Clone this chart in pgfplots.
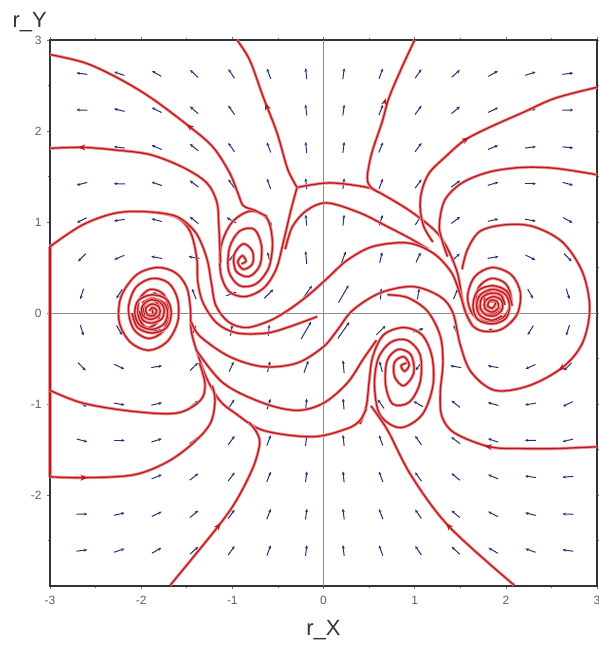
\documentclass[border=0pt]{standalone}
\usepackage{fontspec}
\setmainfont{Liberation Sans}
\usepackage{pgfplots}
\usepackage{pgfplotstable}
\pgfplotsset{compat=1.18}
\usetikzlibrary{arrows.meta}

\definecolor{trajcore}{RGB}{185,25,30}
\definecolor{trajhalo}{RGB}{240,150,150}
\definecolor{fieldblue}{RGB}{38,48,118}
\definecolor{ticklab}{RGB}{95,95,95}

% direction field: grid point, angle (deg), arrow length
\pgfplotstableread{
x y a L
-2.65 2.63 172 0.12
-2.24 2.63 161 0.12
-1.83 2.63 150 0.12
-1.42 2.63 137 0.12
-1.01 2.63 124 0.12
-0.60 2.63 110 0.12
-0.19 2.63 96 0.12
0.22 2.63 83 0.12
0.63 2.63 69 0.12
1.04 2.63 55 0.12
1.45 2.63 42 0.12
1.86 2.63 30 0.12
2.27 2.63 18 0.12
2.68 2.63 7 0.12
-2.65 2.23 178 0.12
-2.24 2.23 166 0.12
-1.83 2.23 153 0.12
-1.42 2.23 139 0.12
-1.01 2.23 125 0.12
-0.60 2.23 111 0.12
-0.19 2.23 97 0.12
0.22 2.23 82 0.12
0.63 2.23 68 0.12
1.04 2.23 54 0.12
1.45 2.23 40 0.12
1.86 2.23 26 0.12
2.27 2.23 13 0.12
2.68 2.23 1 0.12
-2.65 1.82 185 0.12
-2.24 1.82 172 0.12
-1.83 1.82 157 0.12
-1.42 1.82 141 0.12
-1.01 1.82 126 0.12
-0.60 1.82 111 0.12
-0.19 1.82 96 0.12
0.22 1.82 83 0.12
0.63 1.82 68 0.12
1.04 1.82 53 0.12
1.45 1.82 38 0.12
1.86 1.82 22 0.12
2.27 1.82 7 0.12
2.68 1.82 -6 0.12
-2.65 1.42 194 0.12
-2.24 1.42 179 0.12
-1.83 1.42 161 0.12
-1.42 1.42 143 0.12
-1.01 1.42 125 0.12
-0.60 1.42 110 0.12
-0.19 1.42 96 0.12
0.22 1.42 83 0.12
0.63 1.42 69 0.12
1.04 1.42 54 0.12
1.45 1.42 36 0.12
1.86 1.42 17 0.12
2.27 1.42 0 0.12
2.68 1.42 -15 0.12
-2.65 1.02 206 0.12
-2.24 1.02 189 0.12
-1.83 1.02 165 0.12
-1.42 1.02 141 0.12
-1.01 1.02 150 0.12
-0.60 1.02 125 0.12
-0.19 1.02 95 0.12
0.22 1.02 84 0.12
0.63 1.02 72 0.12
1.04 1.02 57 0.12
1.45 1.02 37 0.12
1.86 1.02 13 0.12
2.27 1.02 -10 0.12
2.68 1.02 -28 0.12
-2.65 0.61 225 0.12
-2.24 0.61 204 0.12
-1.83 0.61 169 0.12
-1.42 0.61 170 0.12
-1.01 0.61 234 0.10
-0.60 0.61 105 0.12
-0.19 0.61 95 0.14
0.22 0.61 70 0.14
0.63 0.61 77 0.12
1.04 0.61 65 0.12
1.45 0.61 44 0.12
1.86 0.61 9 0.12
2.27 0.61 -26 0.12
2.68 0.61 -46 0.12
-2.65 0.21 252 0.12
-2.24 0.21 238 0.12
-1.83 0.21 166 0.10
-1.42 0.21 112 0.12
-1.01 0.21 20 0.12
-0.60 0.21 45 0.14
-0.19 0.21 55 0.22
0.22 0.21 60 0.22
0.63 0.21 85 0.12
1.04 0.21 80 0.12
1.45 0.21 67 0.12
1.86 0.21 6 0.12
2.27 0.21 -60 0.12
2.68 0.21 -73 0.12
-2.65 -0.19 -73 0.12
-2.24 -0.19 -60 0.12
-1.83 -0.19 6 0.12
-1.42 -0.19 67 0.12
-1.01 -0.19 80 0.12
-0.60 -0.19 85 0.12
-0.19 -0.19 60 0.22
0.22 -0.19 55 0.22
0.63 -0.19 45 0.14
1.04 -0.19 20 0.12
1.45 -0.19 112 0.12
1.86 -0.19 166 0.10
2.27 -0.19 238 0.12
2.68 -0.19 252 0.12
-2.65 -0.59 -46 0.12
-2.24 -0.59 -26 0.12
-1.83 -0.59 9 0.12
-1.42 -0.59 44 0.12
-1.01 -0.59 65 0.12
-0.60 -0.59 77 0.12
-0.19 -0.59 70 0.14
0.22 -0.59 95 0.14
0.63 -0.59 105 0.12
1.04 -0.59 234 0.10
1.45 -0.59 170 0.12
1.86 -0.59 169 0.12
2.27 -0.59 204 0.12
2.68 -0.59 225 0.12
-2.65 -1.00 -28 0.12
-2.24 -1.00 -10 0.12
-1.83 -1.00 13 0.12
-1.42 -1.00 37 0.12
-1.01 -1.00 57 0.12
-0.60 -1.00 72 0.12
-0.19 -1.00 84 0.12
0.22 -1.00 95 0.12
0.63 -1.00 125 0.12
1.04 -1.00 150 0.12
1.45 -1.00 141 0.12
1.86 -1.00 165 0.12
2.27 -1.00 189 0.12
2.68 -1.00 206 0.12
-2.65 -1.40 -15 0.12
-2.24 -1.40 0 0.12
-1.83 -1.40 17 0.12
-1.42 -1.40 36 0.12
-1.01 -1.40 54 0.12
-0.60 -1.40 69 0.12
-0.19 -1.40 83 0.12
0.22 -1.40 96 0.12
0.63 -1.40 110 0.12
1.04 -1.40 125 0.12
1.45 -1.40 143 0.12
1.86 -1.40 161 0.12
2.27 -1.40 179 0.12
2.68 -1.40 194 0.12
-2.65 -1.80 -6 0.12
-2.24 -1.80 7 0.12
-1.83 -1.80 22 0.12
-1.42 -1.80 38 0.12
-1.01 -1.80 53 0.12
-0.60 -1.80 68 0.12
-0.19 -1.80 83 0.12
0.22 -1.80 96 0.12
0.63 -1.80 111 0.12
1.04 -1.80 126 0.12
1.45 -1.80 141 0.12
1.86 -1.80 157 0.12
2.27 -1.80 172 0.12
2.68 -1.80 185 0.12
-2.65 -2.21 1 0.12
-2.24 -2.21 13 0.12
-1.83 -2.21 26 0.12
-1.42 -2.21 40 0.12
-1.01 -2.21 54 0.12
-0.60 -2.21 68 0.12
-0.19 -2.21 82 0.12
0.22 -2.21 97 0.12
0.63 -2.21 111 0.12
1.04 -2.21 125 0.12
1.45 -2.21 139 0.12
1.86 -2.21 153 0.12
2.27 -2.21 166 0.12
2.68 -2.21 178 0.12
-2.65 -2.61 7 0.12
-2.24 -2.61 18 0.12
-1.83 -2.61 30 0.12
-1.42 -2.61 42 0.12
-1.01 -2.61 55 0.12
-0.60 -2.61 69 0.12
-0.19 -2.61 83 0.12
0.22 -2.61 96 0.12
0.63 -2.61 110 0.12
1.04 -2.61 124 0.12
1.45 -2.61 137 0.12
1.86 -2.61 150 0.12
2.27 -2.61 161 0.12
2.68 -2.61 172 0.12
}\fieldtable

% arrowheads sitting on the trajectories: position and flow direction
\pgfplotstableread{
x y u v
-1.46 2.04 -0.040 0.032
-2.64 1.82 -0.050 0.000
-0.62 2.26 -0.018 0.046
0.67 2.31 0.013 0.048
1.55 1.90 0.042 0.028
-1.16 -2.35 0.030 0.040
1.38 -2.35 -0.035 0.037
-2.64 -1.81 0.050 0.000
2.62 -0.60 -0.040 -0.030
1.82 -1.47 -0.050 0.008
}\headtable

\tikzset{
  traj/.style={smooth, tension=0.55, line width=0.9bp, draw=trajhalo,
    double=trajcore, double distance=1.3bp},
}

\begin{document}
\begin{tikzpicture}
\begin{axis}[
  scale only axis, width=547bp, height=546bp,
  xmin=-3, xmax=3, ymin=-3, ymax=3,
  xtick={-3,-2,...,3}, ytick={-2,-1,...,3},
  minor xtick={-2.5,-1.5,...,2.5}, minor ytick={-2.5,-1.5,...,2.5},
  tick align=outside, major tick length=3bp, minor tick length=2bp,
  tick style={black!55, line width=0.6bp},
  axis line style={black!80, line width=1.3bp},
  ticklabel style={font=\fontsize{12bp}{14bp}\selectfont, text=ticklab},
  xticklabel style={yshift=-4bp},
  yticklabel style={xshift=-2bp},
  /pgf/number format/assume math mode=true,
  clip=false,
]
% coordinate axes through the origin
\addplot[black!45, line width=0.7bp] coordinates {(-3,0) (3,0)};
\addplot[black!45, line width=0.7bp] coordinates {(0,-3) (0,3)};

% direction field
\addplot[fieldblue, line width=1bp, -{Stealth[length=3.4bp,width=3bp]},
  quiver={u={\thisrow{L}*cos(\thisrow{a})}, v={\thisrow{L}*sin(\thisrow{a})}}]
  table[x expr={\thisrow{x}-0.5*\thisrow{L}*cos(\thisrow{a})},
        y expr={\thisrow{y}-0.5*\thisrow{L}*sin(\thisrow{a})}] {\fieldtable};

% trajectory clamped on the left frame
\addplot[traj] coordinates {(-3,0.73) (-3,-1.80)};

% upper focus, wound from the junction
\addplot[traj] coordinates {(-0.29,1.38) (-0.36,1.12) (-0.44,0.78) (-0.52,0.48) (-0.66,0.27) (-0.86,0.18) (-1.04,0.24) (-1.13,0.45) (-1.12,0.75) (-1.00,1.00) (-0.80,1.12) (-0.62,1.04) (-0.56,0.78) (-0.60,0.50) (-0.74,0.32) (-0.92,0.30) (-1.04,0.46) (-1.03,0.72) (-0.92,0.90) (-0.76,0.92) (-0.68,0.74) (-0.70,0.52) (-0.82,0.40) (-0.96,0.46) (-0.98,0.64) (-0.88,0.76) (-0.78,0.68) (-0.78,0.54) (-0.88,0.48) (-0.94,0.56) (-0.89,0.63) (-0.85,0.57) (-0.90,0.54)};
% upper arc from the junction into the right focus
\addplot[traj] coordinates {(-0.29,1.38) (0.07,1.43) (0.48,1.38) (0.62,1.32) (0.98,1.10) (1.28,0.84) (1.46,0.47) (1.53,0.11) (1.62,-0.12) (1.75,-0.20) (1.95,-0.18) (2.12,-0.02) (2.16,0.22) (2.06,0.42) (1.85,0.50) (1.66,0.40) (1.58,0.18) (1.64,-0.02) (1.80,-0.10) (1.98,-0.04) (2.06,0.14) (2.00,0.32) (1.84,0.38) (1.70,0.28) (1.68,0.10) (1.78,-0.01) (1.93,0.02) (1.97,0.16) (1.88,0.26) (1.77,0.20) (1.78,0.08) (1.87,0.06) (1.88,0.13) (1.83,0.12)};
% lower focus
\addplot[traj] coordinates {(0.40,-1.22) (0.47,-1.02) (0.50,-0.76) (0.54,-0.48) (0.66,-0.24) (0.88,-0.16) (1.08,-0.24) (1.19,-0.48) (1.20,-0.80) (1.08,-1.12) (0.84,-1.26) (0.62,-1.12) (0.56,-0.80) (0.60,-0.50) (0.74,-0.32) (0.92,-0.30) (1.06,-0.46) (1.06,-0.76) (0.94,-0.98) (0.76,-1.00) (0.68,-0.78) (0.70,-0.52) (0.82,-0.40) (0.96,-0.46) (0.99,-0.66) (0.88,-0.80) (0.78,-0.70) (0.78,-0.54) (0.88,-0.48) (0.94,-0.57) (0.89,-0.64) (0.85,-0.58) (0.91,-0.55)};
% lower arc into the left focus
\addplot[traj] coordinates {(0.47,-1.05) (0.40,-1.18) (0.26,-1.27) (-0.12,-1.36) (-0.66,-1.29) (-0.97,-1.10) (-1.14,-0.96) (-1.28,-0.72) (-1.38,-0.45) (-1.45,-0.20) (-1.46,0.05) (-1.50,0.28) (-1.62,0.44) (-1.82,0.50) (-2.05,0.42) (-2.22,0.18) (-2.24,-0.10) (-2.12,-0.32) (-1.92,-0.41) (-1.72,-0.32) (-1.60,-0.10) (-1.60,0.15) (-1.70,0.33) (-1.88,0.38) (-2.06,0.28) (-2.14,0.05) (-2.08,-0.18) (-1.92,-0.28) (-1.76,-0.20) (-1.70,0.00) (-1.75,0.20) (-1.90,0.26) (-2.02,0.15) (-2.03,-0.04) (-1.94,-0.16) (-1.82,-0.10) (-1.80,0.06) (-1.88,0.15) (-1.97,0.08) (-1.95,-0.05) (-1.87,-0.04) (-1.88,0.04)};

% tight cores of the two outer foci
\addplot[traj] coordinates {(2.07,0.08) (2.01,0.24) (1.85,0.30) (1.69,0.24) (1.64,0.08) (1.69,-0.07) (1.85,-0.12) (2.00,-0.06) (2.04,0.08) (1.99,0.21) (1.85,0.26) (1.72,0.20) (1.68,0.08) (1.72,-0.03) (1.85,-0.08) (1.96,-0.03)};
\addplot[traj] coordinates {(1.99,0.09) (1.95,0.19) (1.85,0.22) (1.74,0.17) (1.72,0.06) (1.78,-0.02) (1.88,-0.03) (1.96,0.04) (1.95,0.14) (1.86,0.18) (1.77,0.13) (1.77,0.05) (1.85,0.01) (1.92,0.06) (1.90,0.13) (1.83,0.14) (1.80,0.08) (1.85,0.05) (1.88,0.09)};
\addplot[traj] coordinates {(-2.10,0.00) (-2.04,-0.16) (-1.88,-0.22) (-1.72,-0.16) (-1.67,0.00) (-1.72,0.15) (-1.88,0.20) (-2.03,0.14) (-2.07,0.00) (-2.02,-0.13) (-1.88,-0.18) (-1.75,-0.12) (-1.71,0.00) (-1.75,0.11) (-1.88,0.16) (-1.99,0.11)};
\addplot[traj] coordinates {(-2.02,0.02) (-1.98,-0.08) (-1.88,-0.11) (-1.77,-0.06) (-1.75,0.05) (-1.81,0.13) (-1.91,0.14) (-1.99,0.07) (-1.98,-0.03) (-1.89,-0.07) (-1.80,-0.02) (-1.80,0.06) (-1.88,0.10) (-1.95,0.05) (-1.93,-0.02) (-1.86,-0.03) (-1.83,0.03) (-1.88,0.06) (-1.91,0.02)};

% inner arcs of the S band
\addplot[traj] coordinates {(-0.42,0.70) (-0.34,0.95) (-0.18,1.13) (0.04,1.21) (0.40,1.10) (0.70,0.95) (0.95,0.82) (1.15,0.70)};
\addplot[traj] coordinates {(-1.40,-0.40) (-1.10,-0.77) (-0.66,-0.99) (-0.29,-1.07) (0.00,-0.99) (0.26,-0.77) (0.44,-0.50) (0.58,-0.30)};
% from the left edge, round the upper focus, ending near the origin
\addplot[traj] coordinates {(-3.00,0.73) (-2.64,0.97) (-2.27,1.10) (-1.90,1.11) (-1.61,1.05) (-1.46,0.89) (-1.39,0.60) (-1.38,0.35) (-1.32,0.11) (-1.17,-0.11) (-0.95,-0.22) (-0.62,-0.22) (-0.37,-0.15) (-0.07,-0.04)};
% branch rising through the centre into the right focus
\addplot[traj] coordinates {(-1.90,1.11) (-1.61,1.06) (-1.40,0.88) (-1.28,0.60) (-1.23,0.33) (-1.18,0.08) (-1.04,-0.10) (-0.84,-0.16) (-0.58,-0.08) (-0.36,0.05) (-0.15,0.21) (0.04,0.38) (0.26,0.58) (0.54,0.73) (0.92,0.77) (1.20,0.66) (1.40,0.45) (1.50,0.20) (1.56,0.00) (1.64,-0.15)};
% through the centre and round the right focus
\addplot[traj] coordinates {(-1.45,-0.10) (-1.35,-0.26) (-1.03,-0.48) (-0.66,-0.59) (-0.29,-0.55) (0.00,-0.37) (0.15,-0.19) (0.32,0.03) (0.62,0.22) (0.98,0.29) (1.28,0.18) (1.42,0.00) (1.50,-0.35) (1.62,-0.65) (1.88,-0.85) (2.25,-0.80) (2.62,-0.60) (2.84,-0.33) (2.92,0.05) (2.84,0.45) (2.62,0.78) (2.30,0.95) (2.00,0.97) (1.72,0.90) (1.58,0.70) (1.52,0.48)};
% from the right edge, round the lower focus
\addplot[traj] coordinates {(3.00,-1.47) (2.54,-1.49) (2.18,-1.49) (1.82,-1.47) (1.44,-1.32) (1.30,-1.14) (1.28,-0.88) (1.31,-0.55) (1.28,-0.25) (1.14,0.02) (0.92,0.17) (0.70,0.20)};

% from the top-left corner
\addplot[traj] coordinates {(-3.00,2.84) (-2.62,2.75) (-2.27,2.59) (-1.90,2.37) (-1.46,2.04) (-1.21,1.82) (-1.03,1.54) (-0.94,1.32) (-0.88,1.18) (-0.76,1.13) (-0.62,1.06)};
% from the left edge
\addplot[traj] coordinates {(-3.00,1.81) (-2.64,1.82) (-2.27,1.79) (-1.90,1.74) (-1.54,1.60) (-1.28,1.43) (-1.17,1.22) (-1.15,1.00) (-1.14,0.78) (-1.13,0.55)};
% from the top edge
\addplot[traj] coordinates {(-0.95,3.00) (-0.81,2.78) (-0.66,2.37) (-0.51,1.98) (-0.40,1.60) (-0.33,1.45) (-0.29,1.38)};
\addplot[traj] coordinates {(1.00,3.00) (0.86,2.70) (0.72,2.37) (0.64,2.09) (0.53,1.76) (0.48,1.49) (0.52,1.38) (0.62,1.32)};
% from the right edge
\addplot[traj] coordinates {(3.00,2.48) (2.54,2.36) (2.18,2.20) (1.82,2.04) (1.55,1.90) (1.33,1.71) (1.16,1.54) (1.08,1.35) (1.06,1.16) (1.10,0.95) (1.20,0.78)};
\addplot[traj] coordinates {(3.00,1.52) (2.54,1.59) (2.18,1.60) (1.82,1.55) (1.52,1.43) (1.33,1.24) (1.27,0.97) (1.30,0.80) (1.36,0.62)};
% from the bottom edge
\addplot[traj] coordinates {(-1.68,-2.99) (-1.16,-2.35) (-0.95,-2.05) (-0.77,-1.69) (-0.70,-1.43) (-0.74,-1.30) (-0.82,-1.20)};
\addplot[traj] coordinates {(2.09,-2.99) (1.38,-2.35) (0.97,-1.80) (0.72,-1.32) (0.62,-1.16) (0.52,-1.02)};
% from the lower left
\addplot[traj] coordinates {(-3.00,-1.80) (-2.64,-1.81) (-2.09,-1.78) (-1.72,-1.64) (-1.43,-1.43) (-1.24,-1.21) (-1.19,-0.96) (-1.22,-0.80)};
\addplot[traj] coordinates {(-3.00,-0.85) (-2.64,-0.99) (-2.10,-1.08) (-1.61,-1.10) (-1.35,-0.96) (-1.30,-0.78) (-1.36,-0.55)};

% flow arrowheads on the trajectories
\addplot[trajcore, line width=1bp, -{Stealth[length=7bp,width=6bp]},
  quiver={u=\thisrow{u}, v=\thisrow{v}}] table {\headtable};

% axis labels
\node[anchor=base east, inner sep=0pt, font=\fontsize{22bp}{24bp}\selectfont, text=black!80]
  at ([xshift=-3bp,yshift=12bp]rel axis cs:0,1) {r\_Y};
\node[anchor=base, inner sep=0pt, font=\fontsize{22bp}{24bp}\selectfont, text=black!80]
  at ([yshift=-49bp]rel axis cs:0.5,0) {r\_X};
\end{axis}
\pgfresetboundingbox
\useasboundingbox ([xshift=-50bp,yshift=-67bp]current axis.south west)
  rectangle ([xshift=2bp,yshift=40bp]current axis.north east);
\end{tikzpicture}
\end{document}
